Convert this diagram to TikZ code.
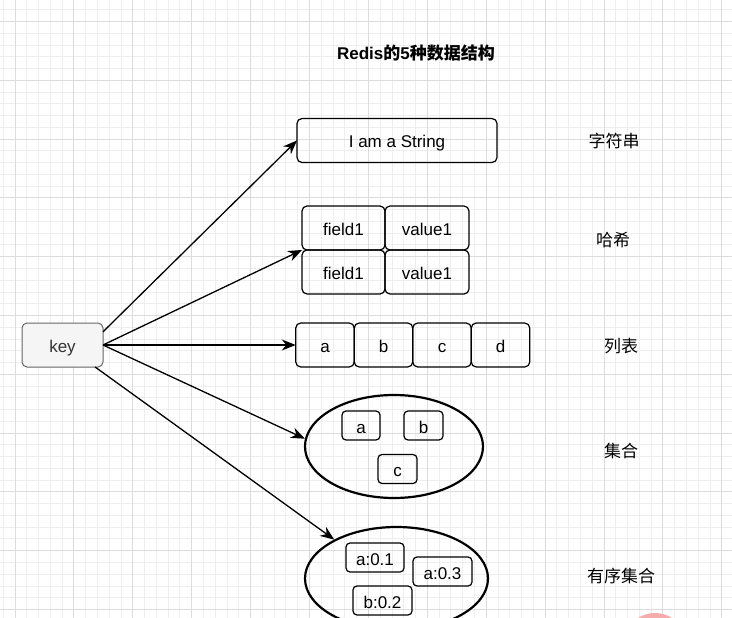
\documentclass[tikz,border=0pt]{standalone}
\usepackage{fontspec}
\setmainfont{Liberation Sans}
\newfontfamily\cjk{Noto Sans CJK SC}
\usetikzlibrary{arrows.meta,positioning,shapes.geometric}
\definecolor{gridMinor}{RGB}{238,238,238}
\definecolor{gridMajor}{RGB}{220,220,220}
\definecolor{keyFill}{RGB}{245,245,245}
\definecolor{keyLine}{RGB}{102,102,102}
\definecolor{blobPink}{RGB}{244,172,172}
\tikzset{
  cell/.style={draw, line width=1.2pt, rounded corners=5pt, minimum height=44pt, inner sep=0pt, outer sep=0pt,
    text height=15pt, text depth=0pt, font=\fontsize{17}{20}\selectfont},
  small/.style={cell, rounded corners=4pt, minimum height=29pt},
  bag/.style={draw, ellipse, line width=2.2pt, inner sep=0pt},
  link/.style={-{Stealth[length=14pt,width=11pt]}, line width=1.3pt},
  tag/.style={font=\fontsize{17}{20}\selectfont\cjk},
}

\begin{document}
\begin{tikzpicture}[x=1pt,y=-1pt]
  \useasboundingbox (0,0) rectangle (732,618);
  % grid
  \foreach \i in {0,...,62}
    \draw[gridMinor, line width=0.9pt] ({3.22+11.78*\i},0) -- ({3.22+11.78*\i},618);
  \foreach \j in {-1,...,52}
    \draw[gridMinor, line width=0.9pt] (0,{9.74+11.76*\j}) -- (732,{9.74+11.76*\j});
  \foreach \i in {0,...,12}
    \draw[gridMajor, line width=1pt] ({15+58.9*\i},0) -- ({15+58.9*\i},618);
  \foreach \j in {0,...,10}
    \draw[gridMajor, line width=1pt] (0,{21.5+58.8*\j}) -- (732,{21.5+58.8*\j});

  \node[font=\fontsize{17}{20}\selectfont\bfseries] (title) at (416,53) {Redis{\cjk 的}5{\cjk 种数据结构}};

  \node[cell, draw=keyLine, fill=keyFill, line width=1pt, minimum width=81pt, text=black!80] (key) at (62.5,345) {key};

  % string
  \node[cell, minimum width=200pt] (str) at (397,140.5) {I am a String};
  % hash
  \node[cell, minimum width=83pt] (f1) at (343.5,228) {field1};
  \node[cell, minimum width=84pt, right=0pt of f1] (v1) {value1};
  \node[cell, minimum width=83pt, below=0pt of f1] (f2) {field1};
  \node[cell, minimum width=84pt, right=0pt of f2] (v2) {value1};
  % list
  \node[cell, minimum width=58.5pt] (la) at (325,345) {a};
  \node[cell, minimum width=58.5pt, right=0pt of la] (lb) {b};
  \node[cell, minimum width=58.5pt, right=0pt of lb] (lc) {c};
  \node[cell, minimum width=58.5pt, right=0pt of lc] (ld) {d};
  % set
  \node[bag, minimum width=178pt, minimum height=103pt] (set) at (394,446.5) {};
  \node[small, minimum width=38pt] (sa) at (361,425.5) {a};
  \node[small, minimum width=39pt] (sb) at (423.5,425.5) {b};
  \node[small, minimum width=39pt] (sc) at (397.5,469) {c};
  % sorted set
  \node[bag, minimum width=183pt, minimum height=103pt] (zset) at (396.5,578.5) {};
  \node[small, minimum width=58pt] (za) at (375,557.5) {a:0.1};
  \node[small, minimum width=59pt] (zc) at (442.5,571.5) {a:0.3};
  \node[small, minimum width=59pt] (zb) at (382.5,600.5) {b:0.2};

  \node[tag] (tstr) at (614,141) {字符串};
  \node[tag] (thash) at (613,240) {哈希};
  \node[tag] (tlist) at (621,346) {列表};
  \node[tag] (tset) at (621,451) {集合};
  \node[tag] (tzset) at (621,576) {有序集合};

  \draw[link] (key.18) -- (str.west);
  \draw[link] (key.east) -- (f1.south west);
  \draw[link] (key.east) -- (la.west);
  \draw[link] (key.east) -- (set.175);
  \draw[link] (key.-34) -- (zset.148);

  \fill[blobPink] (655,644) circle (31);
\end{tikzpicture}
\end{document}
